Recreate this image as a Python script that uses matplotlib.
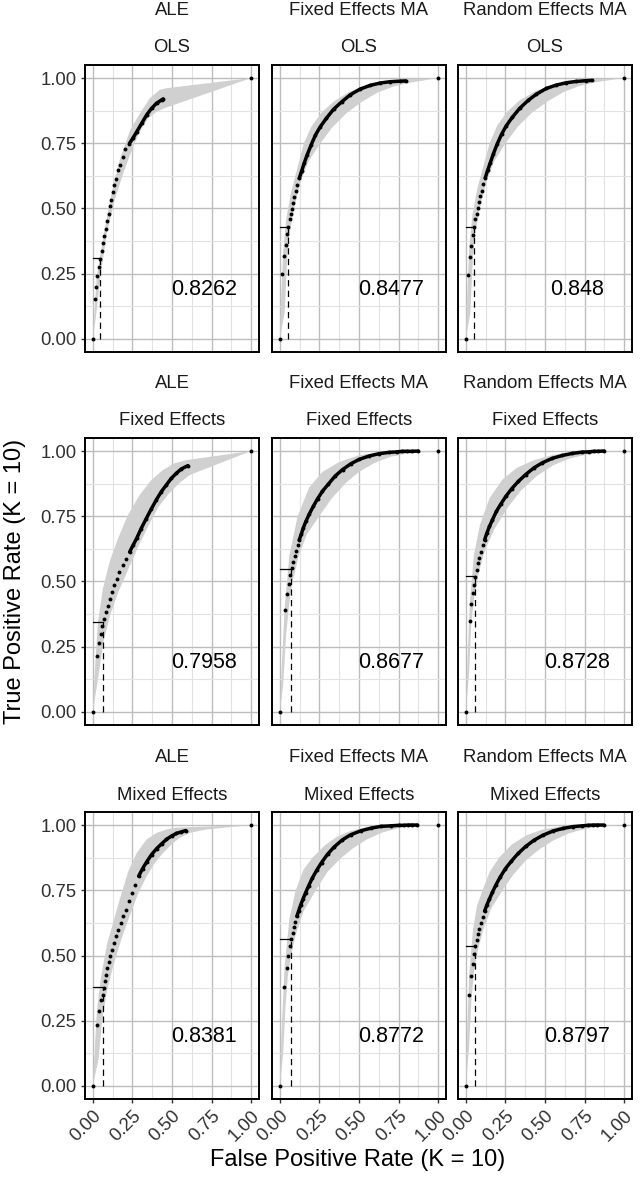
import numpy as np
import matplotlib
matplotlib.use("Agg")
import matplotlib.pyplot as plt
from matplotlib.ticker import MultipleLocator

plt.rcParams["font.family"] = ["Liberation Sans", "DejaVu Sans"]

methods = ["ALE", "Fixed Effects MA", "Random Effects MA"]
models = ["OLS", "Fixed Effects", "Mixed Effects"]
auc_labels = ["0.8262", "0.8477", "0.848",
              "0.7958", "0.8677", "0.8728",
              "0.8381", "0.8772", "0.8797"]
cut_fpr = [0.046, 0.053, 0.048, 0.063, 0.073, 0.057, 0.063, 0.072, 0.059]
cut_tpr = [0.31, 0.43, 0.43, 0.345, 0.548, 0.521, 0.38, 0.562, 0.537]
dense_tpr = [0.74, 0.60, 0.60, 0.60, 0.65, 0.65, 0.78, 0.65, 0.65]
tick_vals = [0.0, 0.25, 0.5, 0.75, 1.0]
tick_text = ["0.00", "0.25", "0.50", "0.75", "1.00"]

# ROC points (fpr, tpr) and ribbon edges
ale_ols_pts = [(0, 0), (0.013, 0.152), (0.021, 0.199), (0.029, 0.242), (0.036, 0.274),
               (0.046, 0.308), (0.057, 0.338), (0.063, 0.366), (0.071, 0.396), (0.080, 0.422),
               (0.088, 0.451), (0.099, 0.479), (0.107, 0.508), (0.115, 0.531), (0.126, 0.563),
               (0.136, 0.589), (0.147, 0.614), (0.161, 0.647), (0.172, 0.668), (0.189, 0.698),
               (0.205, 0.728), (0.231, 0.749), (0.252, 0.769), (0.277, 0.794), (0.308, 0.826),
               (0.340, 0.859), (0.371, 0.884), (0.403, 0.904), (0.434, 0.916), (0.444, 0.920),
               (1, 1)]
ale_ols_hi = [(0, 0), (0.004, 0.049), (0.025, 0.24), (0.067, 0.396), (0.12, 0.563),
              (0.172, 0.692), (0.235, 0.80), (0.298, 0.865), (0.36, 0.923), (0.423, 0.955),
              (0.465, 0.961), (1, 1)]
ale_ols_lo = [(0, 0), (0.022, 0.10), (0.05, 0.254), (0.09, 0.409), (0.14, 0.537),
              (0.195, 0.64), (0.25, 0.73), (0.295, 0.794), (0.35, 0.846), (0.403, 0.871),
              (0.455, 0.885), (1, 1)]

fema_ols_pts = [(0, 0), (0.015, 0.249), (0.025, 0.317), (0.036, 0.362), (0.042, 0.403),
                (0.053, 0.431), (0.061, 0.461), (0.067, 0.480), (0.074, 0.499), (0.082, 0.522),
                (0.090, 0.544), (0.099, 0.566), (0.109, 0.589), (0.122, 0.615), (0.137, 0.643),
                (0.153, 0.673), (0.172, 0.705), (0.197, 0.743), (0.225, 0.782), (0.256, 0.814),
                (0.294, 0.846), (0.340, 0.881), (0.393, 0.910), (0.445, 0.936), (0.508, 0.958),
                (0.571, 0.972), (0.634, 0.981), (0.697, 0.986), (0.761, 0.988), (0.796, 0.989),
                (1, 1)]
fema_ols_hi = [(0, 0), (0.008, 0.15), (0.02, 0.33), (0.04, 0.46), (0.07, 0.56), (0.10, 0.63),
               (0.151, 0.75), (0.20, 0.815), (0.26, 0.865), (0.34, 0.91), (0.44, 0.948),
               (0.55, 0.972), (0.65, 0.986), (0.75, 0.995), (1, 1)]
fema_ols_lo = [(0, 0), (0.03, 0.10), (0.045, 0.30), (0.06, 0.40), (0.09, 0.50), (0.13, 0.60),
               (0.18, 0.68), (0.256, 0.75), (0.33, 0.81), (0.42, 0.865), (0.52, 0.91),
               (0.62, 0.945), (0.72, 0.968), (0.82, 0.982), (1, 1)]

rema_ols_pts = [(0, 0), (0.013, 0.245), (0.023, 0.313), (0.034, 0.358), (0.042, 0.399),
                (0.050, 0.429), (0.059, 0.458), (0.067, 0.480), (0.074, 0.502), (0.082, 0.525),
                (0.092, 0.547), (0.099, 0.567), (0.109, 0.592), (0.122, 0.617), (0.137, 0.646),
                (0.154, 0.675), (0.172, 0.707), (0.197, 0.746), (0.225, 0.784), (0.256, 0.818),
                (0.294, 0.850), (0.340, 0.884), (0.393, 0.914), (0.445, 0.938), (0.508, 0.960),
                (0.571, 0.973), (0.634, 0.982), (0.697, 0.987), (0.761, 0.990), (0.796, 0.991),
                (1, 1)]
rema_ols_hi = [(0, 0), (0.008, 0.16), (0.02, 0.34), (0.04, 0.47), (0.07, 0.57), (0.10, 0.64),
               (0.15, 0.75), (0.20, 0.82), (0.26, 0.87), (0.34, 0.915), (0.44, 0.95),
               (0.55, 0.974), (0.65, 0.988), (0.75, 0.995), (1, 1)]
rema_ols_lo = [(0, 0), (0.028, 0.10), (0.043, 0.30), (0.058, 0.40), (0.088, 0.50), (0.128, 0.60),
               (0.178, 0.68), (0.25, 0.75), (0.33, 0.815), (0.42, 0.868), (0.52, 0.912),
               (0.62, 0.947), (0.72, 0.97), (0.82, 0.984), (1, 1)]

ale_fe_pts = [(0, 0), (0.023, 0.215), (0.036, 0.264), (0.048, 0.299), (0.059, 0.328),
              (0.069, 0.356), (0.080, 0.382), (0.093, 0.408), (0.105, 0.433), (0.120, 0.459),
              (0.135, 0.485), (0.152, 0.510), (0.168, 0.536), (0.189, 0.562), (0.211, 0.587),
              (0.232, 0.613), (0.253, 0.638), (0.278, 0.667), (0.305, 0.703), (0.337, 0.741),
              (0.368, 0.777), (0.400, 0.812), (0.432, 0.844), (0.463, 0.869), (0.495, 0.895),
              (0.526, 0.914), (0.558, 0.931), (0.600, 0.944), (1, 1)]
ale_fe_hi = [(0, 0), (0.01, 0.138), (0.032, 0.344), (0.063, 0.472), (0.105, 0.574),
             (0.158, 0.664), (0.221, 0.754), (0.295, 0.831), (0.368, 0.888), (0.442, 0.927),
             (0.516, 0.953), (0.589, 0.965), (1, 1)]
ale_fe_lo = [(0, 0), (0.035, 0.138), (0.066, 0.267), (0.108, 0.369), (0.16, 0.459),
             (0.225, 0.549), (0.29, 0.638), (0.352, 0.715), (0.415, 0.786), (0.48, 0.837),
             (0.545, 0.876), (0.611, 0.908), (1, 1)]

fema_fe_pts = [(0, 0), (0.032, 0.389), (0.046, 0.451), (0.055, 0.491), (0.065, 0.524),
               (0.076, 0.550), (0.084, 0.576), (0.093, 0.598), (0.101, 0.617), (0.112, 0.640),
               (0.122, 0.659), (0.135, 0.681), (0.147, 0.704), (0.164, 0.730), (0.185, 0.758),
               (0.211, 0.788), (0.238, 0.817), (0.269, 0.846), (0.307, 0.874), (0.349, 0.904),
               (0.396, 0.929), (0.448, 0.951), (0.501, 0.968), (0.564, 0.981), (0.627, 0.990),
               (0.691, 0.995), (0.743, 0.997), (0.775, 0.999), (0.806, 0.999), (0.832, 0.999),
               (0.874, 1.0), (1, 1)]
fema_fe_hi = [(0, 0), (0.013, 0.19), (0.03, 0.40), (0.06, 0.60), (0.112, 0.75), (0.185, 0.86),
              (0.269, 0.92), (0.375, 0.958), (0.50, 0.984), (0.63, 0.995), (0.75, 0.999), (1, 1)]
fema_fe_lo = [(0, 0), (0.02, 0.10), (0.04, 0.30), (0.06, 0.42), (0.08, 0.50), (0.12, 0.60),
              (0.17, 0.68), (0.248, 0.75), (0.33, 0.82), (0.42, 0.88), (0.50, 0.92),
              (0.60, 0.955), (0.70, 0.978), (0.80, 0.99), (1, 1)]

rema_fe_pts = [(0, 0), (0.023, 0.347), (0.034, 0.413), (0.044, 0.455), (0.053, 0.488),
               (0.059, 0.518), (0.067, 0.544), (0.076, 0.569), (0.084, 0.591), (0.095, 0.614),
               (0.105, 0.638), (0.118, 0.659), (0.132, 0.685), (0.149, 0.711), (0.168, 0.737),
               (0.193, 0.769), (0.221, 0.797), (0.252, 0.826), (0.290, 0.856), (0.332, 0.884),
               (0.378, 0.910), (0.431, 0.936), (0.483, 0.955), (0.546, 0.972), (0.609, 0.983),
               (0.672, 0.991), (0.735, 0.996), (0.777, 0.997), (0.809, 0.999), (0.832, 0.999),
               (0.872, 1.0), (1, 1)]
rema_fe_hi = [(0, 0), (0.01, 0.20), (0.025, 0.42), (0.05, 0.60), (0.09, 0.72), (0.15, 0.82),
              (0.23, 0.89), (0.32, 0.935), (0.43, 0.965), (0.55, 0.985), (0.70, 0.997), (1, 1)]
rema_fe_lo = [(0, 0), (0.02, 0.15), (0.035, 0.35), (0.055, 0.45), (0.08, 0.53), (0.12, 0.62),
              (0.18, 0.70), (0.26, 0.78), (0.35, 0.85), (0.45, 0.905), (0.55, 0.945),
              (0.65, 0.97), (0.75, 0.985), (0.85, 0.995), (1, 1)]

ale_me_pts = [(0, 0), (0.025, 0.232), (0.038, 0.288), (0.052, 0.329), (0.061, 0.348),
              (0.067, 0.377), (0.075, 0.402), (0.084, 0.425), (0.092, 0.451), (0.101, 0.474),
              (0.111, 0.498), (0.122, 0.521), (0.134, 0.547), (0.147, 0.573), (0.161, 0.598),
              (0.176, 0.624), (0.193, 0.650), (0.210, 0.675), (0.226, 0.707), (0.245, 0.739),
              (0.266, 0.772), (0.289, 0.804), (0.314, 0.833), (0.340, 0.859), (0.371, 0.887),
              (0.403, 0.910), (0.434, 0.928), (0.465, 0.945), (0.497, 0.958), (0.528, 0.968),
              (0.560, 0.974), (0.587, 0.979), (1, 1)]
ale_me_hi = [(0, 0), (0.008, 0.104), (0.025, 0.284), (0.05, 0.412), (0.088, 0.54), (0.13, 0.63),
             (0.172, 0.72), (0.224, 0.823), (0.277, 0.893), (0.34, 0.945), (0.403, 0.97),
             (0.465, 0.983), (0.528, 0.99), (0.612, 0.992), (1, 1)]
ale_me_lo = [(0, 0), (0.036, 0.104), (0.057, 0.245), (0.088, 0.361), (0.13, 0.463),
             (0.182, 0.566), (0.235, 0.656), (0.287, 0.739), (0.34, 0.804), (0.392, 0.855),
             (0.444, 0.893), (0.497, 0.926), (0.549, 0.951), (0.612, 0.97), (0.717, 0.983),
             (1, 1)]

fema_me_pts = [(0, 0), (0.029, 0.380), (0.042, 0.451), (0.053, 0.499), (0.061, 0.535),
               (0.072, 0.563), (0.080, 0.586), (0.088, 0.608), (0.097, 0.629), (0.107, 0.650),
               (0.118, 0.670), (0.131, 0.693), (0.145, 0.715), (0.162, 0.740), (0.181, 0.766),
               (0.204, 0.796), (0.232, 0.826), (0.263, 0.856), (0.301, 0.888), (0.343, 0.916),
               (0.392, 0.942), (0.448, 0.963), (0.512, 0.978), (0.575, 0.988), (0.638, 0.995),
               (0.701, 0.997), (0.754, 0.999), (0.785, 0.999), (0.811, 1.0), (0.832, 1.0),
               (0.869, 1.0), (1, 1)]
fema_me_hi = [(0, 0), (0.01, 0.20), (0.03, 0.46), (0.06, 0.64), (0.10, 0.75), (0.15, 0.83),
              (0.206, 0.875), (0.28, 0.92), (0.36, 0.955), (0.45, 0.978), (0.55, 0.992),
              (0.65, 0.998), (1, 1)]
fema_me_lo = [(0, 0), (0.02, 0.12), (0.035, 0.30), (0.05, 0.42), (0.07, 0.50), (0.10, 0.58),
              (0.15, 0.67), (0.227, 0.75), (0.30, 0.82), (0.38, 0.87), (0.46, 0.91),
              (0.55, 0.945), (0.65, 0.972), (0.75, 0.988), (0.85, 0.997), (1, 1)]

rema_me_pts = [(0, 0), (0.021, 0.348), (0.032, 0.422), (0.042, 0.467), (0.050, 0.506),
               (0.059, 0.537), (0.067, 0.560), (0.076, 0.582), (0.084, 0.603), (0.095, 0.625),
               (0.105, 0.647), (0.118, 0.670), (0.132, 0.693), (0.149, 0.717), (0.168, 0.743),
               (0.191, 0.772), (0.218, 0.802), (0.250, 0.833), (0.288, 0.862), (0.330, 0.891),
               (0.378, 0.918), (0.431, 0.942), (0.487, 0.961), (0.550, 0.977), (0.613, 0.987),
               (0.676, 0.994), (0.735, 0.997), (0.773, 0.999), (0.805, 1.0), (0.830, 1.0),
               (0.870, 1.0), (1, 1)]
rema_me_hi = [(0, 0), (0.008, 0.20), (0.02, 0.42), (0.045, 0.60), (0.07, 0.69), (0.105, 0.75),
              (0.15, 0.82), (0.21, 0.875), (0.29, 0.925), (0.38, 0.96), (0.48, 0.982),
              (0.60, 0.995), (0.70, 0.999), (1, 1)]
rema_me_lo = [(0, 0), (0.02, 0.15), (0.035, 0.33), (0.05, 0.43), (0.075, 0.52), (0.11, 0.60),
              (0.16, 0.68), (0.231, 0.75), (0.30, 0.81), (0.38, 0.865), (0.46, 0.905),
              (0.55, 0.94), (0.65, 0.968), (0.75, 0.985), (0.85, 0.996), (1, 1)]

curves = [(ale_ols_pts, ale_ols_hi, ale_ols_lo),
          (fema_ols_pts, fema_ols_hi, fema_ols_lo),
          (rema_ols_pts, rema_ols_hi, rema_ols_lo),
          (ale_fe_pts, ale_fe_hi, ale_fe_lo),
          (fema_fe_pts, fema_fe_hi, fema_fe_lo),
          (rema_fe_pts, rema_fe_hi, rema_fe_lo),
          (ale_me_pts, ale_me_hi, ale_me_lo),
          (fema_me_pts, fema_me_hi, fema_me_lo),
          (rema_me_pts, rema_me_hi, rema_me_lo)]

W, H = 640, 1181
fig = plt.figure(figsize=(W / 100, H / 100), dpi=100)

col_left = [85, 272, 458]
row_top = [65, 438, 812]
pw, ph = 174, 287

for i, (pts, hi, lo) in enumerate(curves):
    r, c = divmod(i, 3)
    ax = fig.add_axes([col_left[c] / W, 1 - (row_top[r] + ph) / H, pw / W, ph / H])
    ax.set_xlim(-0.05, 1.05)
    ax.set_ylim(-0.05, 1.05)

    ax.xaxis.set_major_locator(MultipleLocator(0.25))
    ax.yaxis.set_major_locator(MultipleLocator(0.25))
    ax.xaxis.set_minor_locator(MultipleLocator(0.125))
    ax.yaxis.set_minor_locator(MultipleLocator(0.125))
    ax.grid(which="major", color="#bdbdbd", lw=1.0, zorder=0)
    ax.grid(which="minor", color="#e2e2e2", lw=0.8, zorder=0)
    ax.set_axisbelow(True)

    # ribbon
    hx = [p[0] for p in hi] + [p[0] for p in lo[::-1]]
    hy = [p[1] for p in hi] + [p[1] for p in lo[::-1]]
    ax.fill(hx, hy, color="#d0d0d0", lw=0, zorder=1)

    xs = np.array([p[0] for p in pts])
    ys = np.array([p[1] for p in pts])
    dense = (ys >= dense_tpr[i]) & (xs < 1)
    ax.plot(xs[dense], ys[dense], color="black", lw=2.5, solid_capstyle="round", zorder=3)
    ax.plot(xs, ys, "o", color="black", ms=2.8, mew=0, zorder=4)

    # cut-off lines
    ax.plot([cut_fpr[i], cut_fpr[i]], [0, cut_tpr[i]], color="black", lw=0.9,
            linestyle=(0, (5, 3.5)), zorder=2)
    ax.plot([0, cut_fpr[i]], [cut_tpr[i], cut_tpr[i]], color="black", lw=0.9, zorder=2)

    ax.text(0.70, 0.19, auc_labels[i], ha="center", va="center", fontsize=15.5, zorder=5)

    for s in ax.spines.values():
        s.set_color("black")
        s.set_linewidth(1.4)

    ax.set_xticks(tick_vals)
    ax.set_yticks(tick_vals)
    ax.tick_params(which="minor", length=0)
    ax.tick_params(which="major", length=3, width=1.0, color="#333333",
                   labelsize=13.3, labelcolor="#303030", pad=3)
    if c == 0:
        ax.set_yticklabels(tick_text)
    else:
        ax.tick_params(axis="y", length=0, labelleft=False)
    if r == 2:
        ax.set_xticklabels(tick_text, rotation=45, ha="right", va="top",
                           rotation_mode="anchor")
    else:
        ax.tick_params(axis="x", length=0, labelbottom=False)

    ax.text(0.5, 1 + 17 / ph, models[r], transform=ax.transAxes, ha="center",
            va="center", fontsize=13.3, color="#1a1a1a")
    ax.text(0.5, 1 + 54 / ph, methods[c], transform=ax.transAxes, ha="center",
            va="center", fontsize=13.3, color="#1a1a1a")

fig.text(15 / W, 1 - 581 / H, "True Positive Rate (K = 10)", rotation=90,
         ha="center", va="center", fontsize=17)
fig.text(358 / W, 1 - 1160 / H, "False Positive Rate (K = 10)",
         ha="center", va="center", fontsize=17)

fig.savefig("out.png", dpi=100)
